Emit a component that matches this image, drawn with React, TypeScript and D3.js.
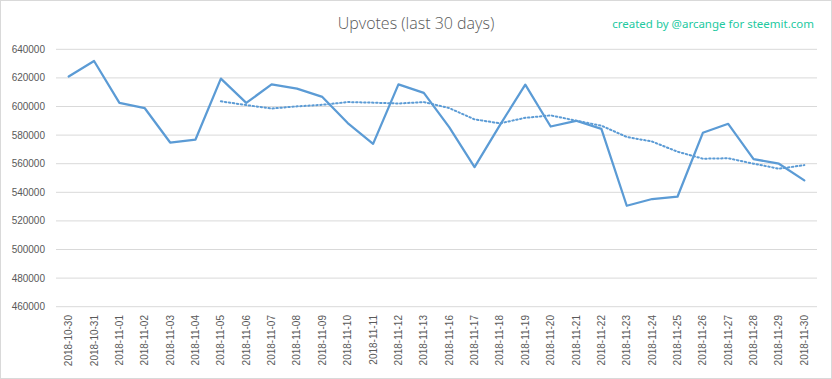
import React from "react";
import * as d3 from "d3";

const dates = [
  "2018-10-30", "2018-10-31", "2018-11-01", "2018-11-02", "2018-11-03", "2018-11-04",
  "2018-11-05", "2018-11-06", "2018-11-07", "2018-11-08", "2018-11-09", "2018-11-10",
  "2018-11-11", "2018-11-12", "2018-11-13", "2018-11-16", "2018-11-17", "2018-11-18",
  "2018-11-19", "2018-11-20", "2018-11-21", "2018-11-22", "2018-11-23", "2018-11-24",
  "2018-11-25", "2018-11-26", "2018-11-27", "2018-11-28", "2018-11-29", "2018-11-30",
];

const upvotes = [
  621000, 631800, 602500, 598800, 574800, 576900,
  619500, 602500, 615500, 612500, 606700, 588400,
  573900, 615500, 609500, 585600, 557600, 587000,
  615300, 586000, 590000, 584400, 530600, 535300,
  536900, 581600, 587900, 563200, 560000, 548300,
];

// 7-period moving average trendline (starts at the 7th point)
const trend: (number | null)[] = [
  null, null, null, null, null, null,
  603600, 601000, 598600, 600100, 601200, 603100,
  602700, 602100, 603100, 598900, 591000, 588200,
  592100, 593800, 590100, 586600, 578700, 575500,
  568400, 563500, 563800, 560000, 556500, 559000,
];

const yTicks = [460000, 480000, 500000, 520000, 540000, 560000, 580000, 600000, 620000, 640000];

const W = 832;
const H = 379;
const left = 56;
const right = 817;
const top = 49.3;
const bottom = 306.7;

export default function App() {
  const x = d3.scaleBand<string>().domain(dates).range([left, right]).padding(0);
  const y = d3.scaleLinear().domain([460000, 640000]).range([bottom, top]);
  const cx = (d: string) => (x(d) as number) + x.bandwidth() / 2;

  const line = d3
    .line<number>()
    .x((_, i) => cx(dates[i]))
    .y((v) => y(v));
  const trendLine = d3
    .line<number | null>()
    .defined((v) => v !== null)
    .x((_, i) => cx(dates[i]))
    .y((v) => y(v as number));

  const font = "Liberation Sans, Arial, sans-serif";

  return (
    <svg
      width={W}
      height={H}
      style={{ position: "absolute", left: 0, top: 0, background: "#fff" }}
    >
      <rect x={0.5} y={0.5} width={W - 1} height={H - 1} fill="#fff" stroke="#d9d9d9" />
      <text
        x={416}
        y={29}
        textAnchor="middle"
        fontFamily="Open Sans, sans-serif"
        fontWeight={300}
        fontSize={16}
        fill="#595959"
      >
        Upvotes (last 30 days)
      </text>
      <text
        x={814}
        y={28}
        textAnchor="end"
        fontFamily="Noto Sans, sans-serif"
        fontSize={11.5}
        fill="#22c9a0"
      >
        created by @arcange for steemit.com
      </text>
      {yTicks.map((t) => (
        <g key={t}>
          <line x1={left} x2={right} y1={y(t)} y2={y(t)} stroke="#d9d9d9" strokeWidth={1} />
          <text
            x={45}
            y={y(t)}
            dy="0.35em"
            textAnchor="end"
            fontFamily={font}
            fontSize={10}
            fill="#595959"
          >
            {t}
          </text>
        </g>
      ))}
      {dates.map((d) => (
        <text
          key={d}
          transform={`translate(${cx(d) + 3.5},${315}) rotate(-90)`}
          textAnchor="end"
          fontFamily={font}
          fontSize={10}
          fill="#595959"
        >
          {d}
        </text>
      ))}
      <path
        d={trendLine(trend) || ""}
        fill="none"
        stroke="#5b9bd5"
        strokeWidth={2}
        strokeDasharray="1.5,2.5"
        strokeLinecap="round"
      />
      <path
        d={line(upvotes) || ""}
        fill="none"
        stroke="#5b9bd5"
        strokeWidth={2.25}
        strokeLinejoin="round"
        strokeLinecap="round"
      />
    </svg>
  );
}
